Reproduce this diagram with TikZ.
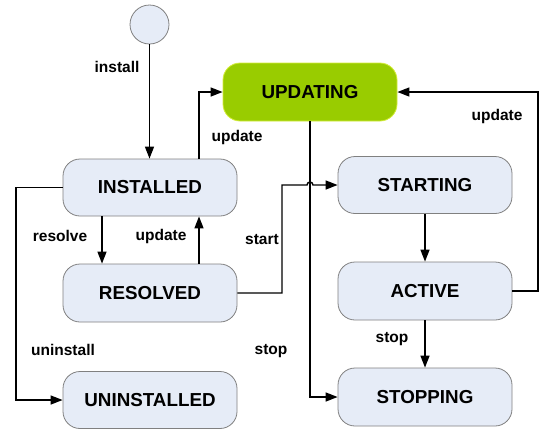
\documentclass[tikz,border=0pt]{standalone}
\usepackage{fontspec}
\setmainfont{Liberation Sans}
\usetikzlibrary{arrows.meta}
\definecolor{nodefill}{HTML}{E6ECF7}
\definecolor{nodeborder}{HTML}{808080}
\definecolor{updfill}{HTML}{99CC00}
\definecolor{updborder}{HTML}{D4EC3A}
\begin{document}
\begin{tikzpicture}[x=1pt,y=-1pt,
  state/.style={draw=nodeborder, fill=nodefill, line width=0.8pt, rounded corners=17pt,
    minimum width=174pt, minimum height=57pt, inner sep=0pt,
    font=\fontsize{18.8}{20}\selectfont\bfseries},
  updstate/.style={state, draw=updborder, fill=updfill},
  lbl/.style={font=\fontsize{15.5}{17}\selectfont\bfseries, inner sep=0pt},
  conn/.style={line width=1.4pt, -{Triangle[length=12pt,width=9pt]}}]
\useasboundingbox (0,0) rectangle (540,429);
\node[circle, draw=nodeborder, fill=nodefill, line width=0.8pt, minimum size=39pt, inner sep=0pt] (init) at (149.5,24.5) {};
\node[state] (installed) at (150,187.5) {INSTALLED};
\node[state, minimum height=58pt] (resolved) at (150,293) {RESOLVED};
\node[state] (uninstalled) at (150,400) {UNINSTALLED};
\node[updstate, minimum height=58pt] (updating) at (310,92) {UPDATING};
\node[state] (starting) at (425,185) {STARTING};
\node[state, minimum height=58pt] (active) at (425,291) {ACTIVE};
\node[state, minimum height=58pt] (stopping) at (425,397) {STOPPING};

\coordinate (xa) at (199,0);
\coordinate (xb) at (102,0);
\coordinate (xl) at (16,0);
\coordinate (xs) at (282,0);
\coordinate (xr) at (538,0);

\draw[conn] (init.south) -- (init.south |- installed.north);
\draw[conn] (installed.north -| xa) |- (updating.west);
\draw[conn] (installed.west) -- (installed.west -| xl) |- (uninstalled.west);
\draw[conn] (installed.south -| xb) -- (resolved.north -| xb);
\draw[conn] (resolved.north -| xa) -- (installed.south -| xa);
\draw[conn] (resolved.east) -- (resolved.east -| xs) -- (starting.west -| xs) -- (307,185) arc[start angle=180, end angle=360, radius=3] -- (starting.west);
\draw[conn] (updating.south) |- (stopping.west);
\draw[conn] (starting.south) -- (active.north);
\draw[conn] (active.south) -- (stopping.north);
\draw[conn] (active.east) -- (active.east -| xr) |- (updating.east);

\node[lbl] (l1) at (117,67) {install};
\node[lbl] (l2) at (237,137) {update};
\node[lbl] (l3) at (60,236) {resolve};
\node[lbl] (l4) at (161,236) {update};
\node[lbl] (l5) at (262,240) {start};
\node[lbl] (l6) at (63,350) {uninstall};
\node[lbl] (l7) at (271,351) {stop};
\node[lbl] (l8) at (392,339) {stop};
\node[lbl] (l9) at (497,116) {update};
\end{tikzpicture}
\end{document}
